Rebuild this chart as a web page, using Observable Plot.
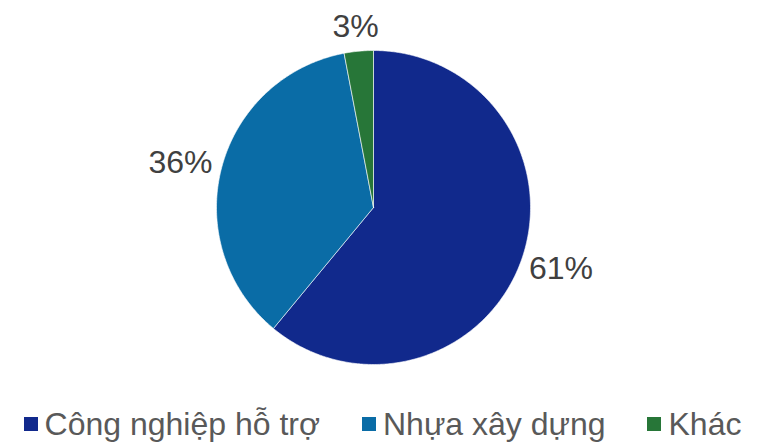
<!DOCTYPE html>
<html>
<head>
<meta charset="utf-8">
<script src="https://cdn.jsdelivr.net/npm/d3@7"></script>
<script src="https://cdn.jsdelivr.net/npm/@observablehq/plot@0.6"></script>
<style>
  body { margin: 0; background: #fff; font-family: "Liberation Sans", Arial, sans-serif; }
  #chart { width: 765px; height: 400px; }
  #legend { display: flex; justify-content: center; align-items: center; gap: 42px; height: 42px; margin-top: 3px; color: #595959; font-size: 32px; }
  .item { display: flex; align-items: center; gap: 7px; }
  .sw { width: 14px; height: 14px; display: inline-block; }
</style>
</head>
<body>
<div id="chart"></div>
<div id="legend"></div>
<script>
const categories = ["Công nghiệp hỗ trợ", "Nhựa xây dựng", "Khác"];
const values = [61, 36, 3];
const labels = ["61%", "36%", "3%"];
const colors = ["#11298c", "#0a6ca6", "#277638"];

const W = 765, H = 400, cx = 373, cy = 207, R = 157;

const total = d3.sum(values);
let acc = 0;
const polys = [];
const labelData = [];
const fs = 32;
values.forEach((v, i) => {
  const a0 = acc / total * 2 * Math.PI;
  acc += v;
  const a1 = acc / total * 2 * Math.PI;
  const n = Math.max(4, Math.ceil((a1 - a0) / 0.01));
  polys.push({cat: categories[i], x: 0, y: 0});
  for (let j = 0; j <= n; j++) {
    const a = a0 + (a1 - a0) * j / n;
    polys.push({cat: categories[i], x: Math.sin(a), y: Math.cos(a)});
  }
  polys.push({cat: categories[i], x: 0, y: 0});
  const am = (a0 + a1) / 2;
  const w = labels[i].length * 0.62 * fs, h = 23;
  const ex = Math.sin(am), ey = Math.cos(am);
  const px = ex * R * 1.08 + ex * w / 2;
  const py = ey * R * 1.08 + ey * h / 2;
  labelData.push({label: labels[i], x: px / R, y: py / R});
});

const chart = Plot.plot({
  width: W,
  height: H,
  margin: 0,
  x: {domain: [-1, 1], range: [cx - R, cx + R], axis: null},
  y: {domain: [-1, 1], range: [cy + R, cy - R], axis: null},
  color: {domain: categories, range: colors},
  marks: [
    Plot.line(polys, {x: "x", y: "y", z: "cat", fill: "cat", stroke: "white", strokeWidth: 0.6, curve: "linear-closed"}),
    Plot.text(labelData, {x: "x", y: "y", text: "label", fontSize: fs, fill: "#404040", textAnchor: "middle", lineAnchor: "middle", fontFamily: "Liberation Sans, Arial, sans-serif"})
  ]
});
document.getElementById("chart").appendChild(chart);

const legend = document.getElementById("legend");
categories.forEach((c, i) => {
  const it = document.createElement("div");
  it.className = "item";
  const sw = document.createElement("span");
  sw.className = "sw";
  sw.style.background = colors[i];
  const t = document.createElement("span");
  t.textContent = c;
  it.appendChild(sw);
  it.appendChild(t);
  legend.appendChild(it);
});
</script>
</body>
</html>
